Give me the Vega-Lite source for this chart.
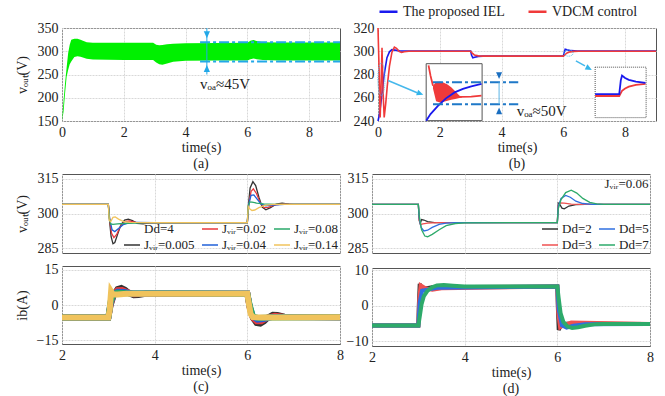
{
"$schema": "https://vega.github.io/schema/vega-lite/v6.json",
"padding": {"left": 14, "top": 0, "right": 4, "bottom": 0},
"background": "white",
"spacing": -1,
"resolve": {"scale": {"color": "independent"}, "legend": {"color": "independent"}},
"config": {
  "font": "Liberation Serif",
  "view": {"stroke": "#555555", "strokeWidth": 1},
  "style": {"guide-title": {"fontWeight": "normal"}},
  "axis": {"labelFont": "Liberation Serif", "labelFontSize": 14, "labelColor": "#222222", "titleFont": "Liberation Serif", "titleFontSize": 14, "titleFontWeight": "normal", "titleColor": "#222222", "ticks": false, "labelPadding": 4, "domain": false, "gridColor": "#d8d8d8", "gridDash": [2, 1], "labelFlush": false, "labelOverlap": false, "labelBound": false},
  "legend": {"labelFont": "Liberation Serif", "labelFontSize": 13, "labelColor": "#222222", "symbolType": "stroke", "title": null, "padding": 0},
  "title": {"font": "Liberation Serif", "fontSize": 14, "fontWeight": "normal", "color": "#222222"}
},
"datasets": {
  "a_band": [
    {"t": 0, "v": 150, "v2": 150}, {"t": 0.05, "v": 193, "v2": 170}, {"t": 0.1, "v": 232, "v2": 210}, {"t": 0.15, "v": 265, "v2": 245},
    {"t": 0.2, "v": 296, "v2": 260}, {"t": 0.25, "v": 314, "v2": 272}, {"t": 0.3, "v": 325, "v2": 278}, {"t": 0.4, "v": 327, "v2": 287.5},
    {"t": 0.5, "v": 327, "v2": 289}, {"t": 0.6, "v": 324.5, "v2": 288}, {"t": 0.8, "v": 319.5, "v2": 284}, {"t": 1.0, "v": 318.5, "v2": 282},
    {"t": 2.0, "v": 318.5, "v2": 281}, {"t": 2.95, "v": 318.5, "v2": 281}, {"t": 3.05, "v": 314, "v2": 276}, {"t": 3.15, "v": 313, "v2": 272},
    {"t": 3.25, "v": 313.5, "v2": 271}, {"t": 3.4, "v": 315, "v2": 273.5}, {"t": 3.6, "v": 316, "v2": 277.5}, {"t": 4.0, "v": 317, "v2": 279.5},
    {"t": 5.0, "v": 318, "v2": 280}, {"t": 6.0, "v": 318.5, "v2": 280}, {"t": 6.1, "v": 322.5, "v2": 283}, {"t": 6.2, "v": 324, "v2": 284.5},
    {"t": 6.3, "v": 322, "v2": 283}, {"t": 6.5, "v": 319.5, "v2": 281}, {"t": 7.0, "v": 319, "v2": 280}, {"t": 9.0, "v": 319, "v2": 280}
  ],
  "b_main": [
    {"s": "The proposed IEL", "t": 0, "v": 240}, {"s": "The proposed IEL", "t": 0.05, "v": 246}, {"s": "The proposed IEL", "t": 0.1, "v": 257},
    {"s": "The proposed IEL", "t": 0.2, "v": 280}, {"s": "The proposed IEL", "t": 0.29, "v": 294.5}, {"s": "The proposed IEL", "t": 0.37, "v": 299.5},
    {"s": "The proposed IEL", "t": 0.45, "v": 301.4}, {"s": "The proposed IEL", "t": 0.55, "v": 301}, {"s": "The proposed IEL", "t": 0.7, "v": 300.3},
    {"s": "The proposed IEL", "t": 1, "v": 300.1}, {"s": "The proposed IEL", "t": 3, "v": 300.1}, {"s": "The proposed IEL", "t": 3.03, "v": 296.5},
    {"s": "The proposed IEL", "t": 3.07, "v": 294.3}, {"s": "The proposed IEL", "t": 3.13, "v": 294.8}, {"s": "The proposed IEL", "t": 3.25, "v": 295.6},
    {"s": "The proposed IEL", "t": 3.4, "v": 295.8}, {"s": "The proposed IEL", "t": 6, "v": 295.8}, {"s": "The proposed IEL", "t": 6.03, "v": 299},
    {"s": "The proposed IEL", "t": 6.06, "v": 301.7}, {"s": "The proposed IEL", "t": 6.12, "v": 301.2}, {"s": "The proposed IEL", "t": 6.25, "v": 300.5},
    {"s": "The proposed IEL", "t": 6.45, "v": 300.1}, {"s": "The proposed IEL", "t": 9, "v": 300.1},
    {"s": "VDCM control", "t": 0, "v": 320}, {"s": "VDCM control", "t": 0.03, "v": 290}, {"s": "VDCM control", "t": 0.07, "v": 243},
    {"s": "VDCM control", "t": 0.1, "v": 270}, {"s": "VDCM control", "t": 0.13, "v": 303}, {"s": "VDCM control", "t": 0.16, "v": 268},
    {"s": "VDCM control", "t": 0.2, "v": 243}, {"s": "VDCM control", "t": 0.25, "v": 255}, {"s": "VDCM control", "t": 0.3, "v": 270},
    {"s": "VDCM control", "t": 0.37, "v": 287}, {"s": "VDCM control", "t": 0.45, "v": 299}, {"s": "VDCM control", "t": 0.53, "v": 303.5},
    {"s": "VDCM control", "t": 0.6, "v": 302.5}, {"s": "VDCM control", "t": 0.68, "v": 300}, {"s": "VDCM control", "t": 0.76, "v": 299},
    {"s": "VDCM control", "t": 0.85, "v": 299.6}, {"s": "VDCM control", "t": 1, "v": 300}, {"s": "VDCM control", "t": 3, "v": 300},
    {"s": "VDCM control", "t": 3.05, "v": 298.3}, {"s": "VDCM control", "t": 3.12, "v": 296.8}, {"s": "VDCM control", "t": 3.25, "v": 296},
    {"s": "VDCM control", "t": 3.4, "v": 295.8}, {"s": "VDCM control", "t": 6, "v": 295.8}, {"s": "VDCM control", "t": 6.05, "v": 297},
    {"s": "VDCM control", "t": 6.12, "v": 298.5}, {"s": "VDCM control", "t": 6.22, "v": 299.5}, {"s": "VDCM control", "t": 6.35, "v": 299.9},
    {"s": "VDCM control", "t": 6.5, "v": 300}, {"s": "VDCM control", "t": 9, "v": 300}
  ],
  "b_band": [
    {"t": 1.78, "v": 270.4, "v2": 268}, {"t": 1.88, "v": 273.5, "v2": 257}, {"t": 2.0, "v": 273.8, "v2": 255.9}, {"t": 2.1, "v": 273.3, "v2": 256.3},
    {"t": 2.25, "v": 271.5, "v2": 257.4}, {"t": 2.37, "v": 269, "v2": 258.2}, {"t": 2.5, "v": 265.5, "v2": 259}, {"t": 2.64, "v": 261.7, "v2": 259.7},
    {"t": 2.72, "v": 261, "v2": 260.2}
  ],
  "b_inset": [
    {"g": "r1", "c": "#f03a3a", "t": 1.636, "v": 287.8}, {"g": "r1", "c": "#f03a3a", "t": 1.7, "v": 279}, {"g": "r1", "c": "#f03a3a", "t": 1.78, "v": 270.4},
    {"g": "r2", "c": "#f03a3a", "t": 2.64, "v": 260.8}, {"g": "r2", "c": "#f03a3a", "t": 3.02, "v": 261}, {"g": "r2", "c": "#f03a3a", "t": 3.35, "v": 261.9},
    {"g": "r3", "c": "#f03a3a", "t": 7.03, "v": 261.5}, {"g": "r3", "c": "#f03a3a", "t": 7.81, "v": 261.5}, {"g": "r3", "c": "#f03a3a", "t": 7.86, "v": 264},
    {"g": "r3", "c": "#f03a3a", "t": 7.9, "v": 266}, {"g": "r3", "c": "#f03a3a", "t": 8.0, "v": 268}, {"g": "r3", "c": "#f03a3a", "t": 8.12, "v": 269.6},
    {"g": "r3", "c": "#f03a3a", "t": 8.35, "v": 271}, {"g": "r3", "c": "#f03a3a", "t": 8.66, "v": 271.9},
    {"g": "b1", "c": "#1a1aee", "t": 1.56, "v": 240.3}, {"g": "b1", "c": "#1a1aee", "t": 1.7, "v": 246}, {"g": "b1", "c": "#1a1aee", "t": 1.94, "v": 253},
    {"g": "b1", "c": "#1a1aee", "t": 2.2, "v": 259.5}, {"g": "b1", "c": "#1a1aee", "t": 2.48, "v": 264.6}, {"g": "b1", "c": "#1a1aee", "t": 2.75, "v": 267.6},
    {"g": "b1", "c": "#1a1aee", "t": 3.02, "v": 269.8}, {"g": "b1", "c": "#1a1aee", "t": 3.35, "v": 271.9},
    {"g": "b2", "c": "#1a1aee", "t": 7.03, "v": 263.2}, {"g": "b2", "c": "#1a1aee", "t": 7.81, "v": 263.2}, {"g": "b2", "c": "#1a1aee", "t": 7.86, "v": 275},
    {"g": "b2", "c": "#1a1aee", "t": 7.9, "v": 279.1}, {"g": "b2", "c": "#1a1aee", "t": 8.0, "v": 277}, {"g": "b2", "c": "#1a1aee", "t": 8.12, "v": 275.4},
    {"g": "b2", "c": "#1a1aee", "t": 8.35, "v": 273.8}, {"g": "b2", "c": "#1a1aee", "t": 8.66, "v": 272.8}
  ],
  "c1": [
    {"s": "Jᵥᵢᵣ=0.005", "t": 2, "v": 303.9}, {"s": "Jᵥᵢᵣ=0.005", "t": 3, "v": 303.9}, {"s": "Jᵥᵢᵣ=0.005", "t": 3.03, "v": 296}, {"s": "Jᵥᵢᵣ=0.005", "t": 3.06, "v": 290},
    {"s": "Jᵥᵢᵣ=0.005", "t": 3.1, "v": 287}, {"s": "Jᵥᵢᵣ=0.005", "t": 3.14, "v": 287.5}, {"s": "Jᵥᵢᵣ=0.005", "t": 3.2, "v": 291}, {"s": "Jᵥᵢᵣ=0.005", "t": 3.27, "v": 295},
    {"s": "Jᵥᵢᵣ=0.005", "t": 3.35, "v": 297.2}, {"s": "Jᵥᵢᵣ=0.005", "t": 3.43, "v": 297.6}, {"s": "Jᵥᵢᵣ=0.005", "t": 3.52, "v": 296.9}, {"s": "Jᵥᵢᵣ=0.005", "t": 3.62, "v": 295.8},
    {"s": "Jᵥᵢᵣ=0.005", "t": 3.75, "v": 295.6}, {"s": "Jᵥᵢᵣ=0.005", "t": 3.9, "v": 296}, {"s": "Jᵥᵢᵣ=0.005", "t": 6, "v": 296.1}, {"s": "Jᵥᵢᵣ=0.005", "t": 6.02, "v": 303},
    {"s": "Jᵥᵢᵣ=0.005", "t": 6.06, "v": 311}, {"s": "Jᵥᵢᵣ=0.005", "t": 6.12, "v": 313.7}, {"s": "Jᵥᵢᵣ=0.005", "t": 6.18, "v": 312}, {"s": "Jᵥᵢᵣ=0.005", "t": 6.25, "v": 307},
    {"s": "Jᵥᵢᵣ=0.005", "t": 6.32, "v": 302.8}, {"s": "Jᵥᵢᵣ=0.005", "t": 6.4, "v": 301.6}, {"s": "Jᵥᵢᵣ=0.005", "t": 6.5, "v": 302.5}, {"s": "Jᵥᵢᵣ=0.005", "t": 6.62, "v": 304},
    {"s": "Jᵥᵢᵣ=0.005", "t": 6.75, "v": 304.4}, {"s": "Jᵥᵢᵣ=0.005", "t": 6.9, "v": 304}, {"s": "Jᵥᵢᵣ=0.005", "t": 7.1, "v": 303.9}, {"s": "Jᵥᵢᵣ=0.005", "t": 8, "v": 303.9},
    {"s": "Jᵥᵢᵣ=0.02", "t": 2, "v": 303.9}, {"s": "Jᵥᵢᵣ=0.02", "t": 3, "v": 303.9}, {"s": "Jᵥᵢᵣ=0.02", "t": 3.03, "v": 297}, {"s": "Jᵥᵢᵣ=0.02", "t": 3.07, "v": 291.5},
    {"s": "Jᵥᵢᵣ=0.02", "t": 3.12, "v": 289.6}, {"s": "Jᵥᵢᵣ=0.02", "t": 3.18, "v": 291}, {"s": "Jᵥᵢᵣ=0.02", "t": 3.26, "v": 294.5}, {"s": "Jᵥᵢᵣ=0.02", "t": 3.35, "v": 296.5},
    {"s": "Jᵥᵢᵣ=0.02", "t": 3.45, "v": 296.8}, {"s": "Jᵥᵢᵣ=0.02", "t": 3.6, "v": 296.2}, {"s": "Jᵥᵢᵣ=0.02", "t": 3.8, "v": 295.9}, {"s": "Jᵥᵢᵣ=0.02", "t": 4, "v": 296.1},
    {"s": "Jᵥᵢᵣ=0.02", "t": 6, "v": 296.1}, {"s": "Jᵥᵢᵣ=0.02", "t": 6.03, "v": 303.5}, {"s": "Jᵥᵢᵣ=0.02", "t": 6.08, "v": 309.5}, {"s": "Jᵥᵢᵣ=0.02", "t": 6.13, "v": 310.6},
    {"s": "Jᵥᵢᵣ=0.02", "t": 6.2, "v": 308.5}, {"s": "Jᵥᵢᵣ=0.02", "t": 6.28, "v": 304.5}, {"s": "Jᵥᵢᵣ=0.02", "t": 6.36, "v": 302.5}, {"s": "Jᵥᵢᵣ=0.02", "t": 6.45, "v": 302.6},
    {"s": "Jᵥᵢᵣ=0.02", "t": 6.6, "v": 303.7}, {"s": "Jᵥᵢᵣ=0.02", "t": 6.8, "v": 304.1}, {"s": "Jᵥᵢᵣ=0.02", "t": 7, "v": 303.9}, {"s": "Jᵥᵢᵣ=0.02", "t": 8, "v": 303.9},
    {"s": "Jᵥᵢᵣ=0.04", "t": 2, "v": 303.9}, {"s": "Jᵥᵢᵣ=0.04", "t": 3, "v": 303.9}, {"s": "Jᵥᵢᵣ=0.04", "t": 3.03, "v": 297.5}, {"s": "Jᵥᵢᵣ=0.04", "t": 3.08, "v": 293},
    {"s": "Jᵥᵢᵣ=0.04", "t": 3.14, "v": 292.2}, {"s": "Jᵥᵢᵣ=0.04", "t": 3.22, "v": 293.5}, {"s": "Jᵥᵢᵣ=0.04", "t": 3.32, "v": 295.2}, {"s": "Jᵥᵢᵣ=0.04", "t": 3.45, "v": 296},
    {"s": "Jᵥᵢᵣ=0.04", "t": 3.6, "v": 296.2}, {"s": "Jᵥᵢᵣ=0.04", "t": 4, "v": 296.1}, {"s": "Jᵥᵢᵣ=0.04", "t": 6, "v": 296.1}, {"s": "Jᵥᵢᵣ=0.04", "t": 6.03, "v": 304},
    {"s": "Jᵥᵢᵣ=0.04", "t": 6.08, "v": 307.8}, {"s": "Jᵥᵢᵣ=0.04", "t": 6.14, "v": 308}, {"s": "Jᵥᵢᵣ=0.04", "t": 6.22, "v": 306}, {"s": "Jᵥᵢᵣ=0.04", "t": 6.3, "v": 304},
    {"s": "Jᵥᵢᵣ=0.04", "t": 6.4, "v": 303.3}, {"s": "Jᵥᵢᵣ=0.04", "t": 6.55, "v": 303.6}, {"s": "Jᵥᵢᵣ=0.04", "t": 6.8, "v": 303.9}, {"s": "Jᵥᵢᵣ=0.04", "t": 8, "v": 303.9},
    {"s": "Jᵥᵢᵣ=0.08", "t": 2, "v": 303.9}, {"s": "Jᵥᵢᵣ=0.08", "t": 3, "v": 303.9}, {"s": "Jᵥᵢᵣ=0.08", "t": 3.02, "v": 298}, {"s": "Jᵥᵢᵣ=0.08", "t": 3.05, "v": 295.5},
    {"s": "Jᵥᵢᵣ=0.08", "t": 3.1, "v": 295.3}, {"s": "Jᵥᵢᵣ=0.08", "t": 3.2, "v": 295.5}, {"s": "Jᵥᵢᵣ=0.08", "t": 3.4, "v": 295.8}, {"s": "Jᵥᵢᵣ=0.08", "t": 3.7, "v": 296},
    {"s": "Jᵥᵢᵣ=0.08", "t": 4, "v": 296.1}, {"s": "Jᵥᵢᵣ=0.08", "t": 6, "v": 296.1}, {"s": "Jᵥᵢᵣ=0.08", "t": 6.02, "v": 303}, {"s": "Jᵥᵢᵣ=0.08", "t": 6.05, "v": 305},
    {"s": "Jᵥᵢᵣ=0.08", "t": 6.1, "v": 304.9}, {"s": "Jᵥᵢᵣ=0.08", "t": 6.2, "v": 304.5}, {"s": "Jᵥᵢᵣ=0.08", "t": 6.35, "v": 304.1}, {"s": "Jᵥᵢᵣ=0.08", "t": 6.6, "v": 303.9},
    {"s": "Jᵥᵢᵣ=0.08", "t": 8, "v": 303.9},
    {"s": "Jᵥᵢᵣ=0.14", "t": 2, "v": 303.9}, {"s": "Jᵥᵢᵣ=0.14", "t": 3, "v": 303.9}, {"s": "Jᵥᵢᵣ=0.14", "t": 3.02, "v": 297}, {"s": "Jᵥᵢᵣ=0.14", "t": 3.05, "v": 296.5},
    {"s": "Jᵥᵢᵣ=0.14", "t": 3.1, "v": 298.3}, {"s": "Jᵥᵢᵣ=0.14", "t": 3.15, "v": 298.5}, {"s": "Jᵥᵢᵣ=0.14", "t": 3.22, "v": 297.6}, {"s": "Jᵥᵢᵣ=0.14", "t": 3.32, "v": 296.6},
    {"s": "Jᵥᵢᵣ=0.14", "t": 3.45, "v": 296.2}, {"s": "Jᵥᵢᵣ=0.14", "t": 4, "v": 296.1}, {"s": "Jᵥᵢᵣ=0.14", "t": 6, "v": 296.1}, {"s": "Jᵥᵢᵣ=0.14", "t": 6.02, "v": 303},
    {"s": "Jᵥᵢᵣ=0.14", "t": 6.05, "v": 302}, {"s": "Jᵥᵢᵣ=0.14", "t": 6.1, "v": 301.3}, {"s": "Jᵥᵢᵣ=0.14", "t": 6.16, "v": 301.5}, {"s": "Jᵥᵢᵣ=0.14", "t": 6.25, "v": 302.5},
    {"s": "Jᵥᵢᵣ=0.14", "t": 6.38, "v": 303.5}, {"s": "Jᵥᵢᵣ=0.14", "t": 6.55, "v": 303.9}, {"s": "Jᵥᵢᵣ=0.14", "t": 8, "v": 303.9}
  ],
  "c2": [
    {"s": "Jᵥᵢᵣ=0.005", "t": 2, "v": -5.3}, {"s": "Jᵥᵢᵣ=0.005", "t": 3, "v": -5.3}, {"s": "Jᵥᵢᵣ=0.005", "t": 3.05, "v": 0}, {"s": "Jᵥᵢᵣ=0.005", "t": 3.12, "v": 4.5},
    {"s": "Jᵥᵢᵣ=0.005", "t": 3.2, "v": 6.8}, {"s": "Jᵥᵢᵣ=0.005", "t": 3.28, "v": 7.3}, {"s": "Jᵥᵢᵣ=0.005", "t": 3.36, "v": 6.5}, {"s": "Jᵥᵢᵣ=0.005", "t": 3.45, "v": 5},
    {"s": "Jᵥᵢᵣ=0.005", "t": 3.55, "v": 4.2}, {"s": "Jᵥᵢᵣ=0.005", "t": 3.65, "v": 4.3}, {"s": "Jᵥᵢᵣ=0.005", "t": 3.8, "v": 4.8}, {"s": "Jᵥᵢᵣ=0.005", "t": 6, "v": 4.8},
    {"s": "Jᵥᵢᵣ=0.005", "t": 6.05, "v": -1}, {"s": "Jᵥᵢᵣ=0.005", "t": 6.12, "v": -5.5}, {"s": "Jᵥᵢᵣ=0.005", "t": 6.2, "v": -7.7}, {"s": "Jᵥᵢᵣ=0.005", "t": 6.28, "v": -8},
    {"s": "Jᵥᵢᵣ=0.005", "t": 6.36, "v": -7}, {"s": "Jᵥᵢᵣ=0.005", "t": 6.45, "v": -5.3}, {"s": "Jᵥᵢᵣ=0.005", "t": 6.55, "v": -4.2}, {"s": "Jᵥᵢᵣ=0.005", "t": 6.65, "v": -4.3},
    {"s": "Jᵥᵢᵣ=0.005", "t": 6.8, "v": -5}, {"s": "Jᵥᵢᵣ=0.005", "t": 8, "v": -5.2},
    {"s": "Jᵥᵢᵣ=0.02", "t": 2, "v": -5.3}, {"s": "Jᵥᵢᵣ=0.02", "t": 3, "v": -5.3}, {"s": "Jᵥᵢᵣ=0.02", "t": 3.05, "v": 0.5}, {"s": "Jᵥᵢᵣ=0.02", "t": 3.12, "v": 4.8},
    {"s": "Jᵥᵢᵣ=0.02", "t": 3.2, "v": 6.3}, {"s": "Jᵥᵢᵣ=0.02", "t": 3.3, "v": 6.4}, {"s": "Jᵥᵢᵣ=0.02", "t": 3.4, "v": 5.6}, {"s": "Jᵥᵢᵣ=0.02", "t": 3.55, "v": 4.6},
    {"s": "Jᵥᵢᵣ=0.02", "t": 3.8, "v": 4.8}, {"s": "Jᵥᵢᵣ=0.02", "t": 6, "v": 4.8}, {"s": "Jᵥᵢᵣ=0.02", "t": 6.05, "v": -1}, {"s": "Jᵥᵢᵣ=0.02", "t": 6.12, "v": -5.5},
    {"s": "Jᵥᵢᵣ=0.02", "t": 6.2, "v": -7}, {"s": "Jᵥᵢᵣ=0.02", "t": 6.3, "v": -7}, {"s": "Jᵥᵢᵣ=0.02", "t": 6.42, "v": -5.5}, {"s": "Jᵥᵢᵣ=0.02", "t": 6.6, "v": -4.6},
    {"s": "Jᵥᵢᵣ=0.02", "t": 6.8, "v": -5.1}, {"s": "Jᵥᵢᵣ=0.02", "t": 8, "v": -5.2},
    {"s": "Jᵥᵢᵣ=0.04", "t": 2, "v": -5.3}, {"s": "Jᵥᵢᵣ=0.04", "t": 3, "v": -5.3}, {"s": "Jᵥᵢᵣ=0.04", "t": 3.05, "v": 1}, {"s": "Jᵥᵢᵣ=0.04", "t": 3.12, "v": 4.8},
    {"s": "Jᵥᵢᵣ=0.04", "t": 3.2, "v": 5.7}, {"s": "Jᵥᵢᵣ=0.04", "t": 3.35, "v": 5.6}, {"s": "Jᵥᵢᵣ=0.04", "t": 3.5, "v": 5}, {"s": "Jᵥᵢᵣ=0.04", "t": 6, "v": 4.8},
    {"s": "Jᵥᵢᵣ=0.04", "t": 6.05, "v": -0.5}, {"s": "Jᵥᵢᵣ=0.04", "t": 6.12, "v": -5}, {"s": "Jᵥᵢᵣ=0.04", "t": 6.22, "v": -6.3}, {"s": "Jᵥᵢᵣ=0.04", "t": 6.35, "v": -6},
    {"s": "Jᵥᵢᵣ=0.04", "t": 6.55, "v": -5.1}, {"s": "Jᵥᵢᵣ=0.04", "t": 8, "v": -5.2},
    {"s": "Jᵥᵢᵣ=0.08", "t": 2, "v": -5.3}, {"s": "Jᵥᵢᵣ=0.08", "t": 3, "v": -5.3}, {"s": "Jᵥᵢᵣ=0.08", "t": 3.05, "v": 1.5}, {"s": "Jᵥᵢᵣ=0.08", "t": 3.12, "v": 4.8},
    {"s": "Jᵥᵢᵣ=0.08", "t": 3.2, "v": 5.2}, {"s": "Jᵥᵢᵣ=0.08", "t": 3.4, "v": 5}, {"s": "Jᵥᵢᵣ=0.08", "t": 6, "v": 4.8}, {"s": "Jᵥᵢᵣ=0.08", "t": 6.05, "v": 0},
    {"s": "Jᵥᵢᵣ=0.08", "t": 6.12, "v": -5}, {"s": "Jᵥᵢᵣ=0.08", "t": 6.25, "v": -5.6}, {"s": "Jᵥᵢᵣ=0.08", "t": 6.5, "v": -5.3}, {"s": "Jᵥᵢᵣ=0.08", "t": 8, "v": -5.2},
    {"s": "Jᵥᵢᵣ=0.14", "t": 2, "v": -5.3}, {"s": "Jᵥᵢᵣ=0.14", "t": 3, "v": -5.3}, {"s": "Jᵥᵢᵣ=0.14", "t": 3.03, "v": -2}, {"s": "Jᵥᵢᵣ=0.14", "t": 3.06, "v": 5.8},
    {"s": "Jᵥᵢᵣ=0.14", "t": 3.1, "v": 4.5}, {"s": "Jᵥᵢᵣ=0.14", "t": 3.2, "v": 4.5}, {"s": "Jᵥᵢᵣ=0.14", "t": 3.4, "v": 4.8}, {"s": "Jᵥᵢᵣ=0.14", "t": 6, "v": 4.8},
    {"s": "Jᵥᵢᵣ=0.14", "t": 6.03, "v": 1}, {"s": "Jᵥᵢᵣ=0.14", "t": 6.07, "v": -3.8}, {"s": "Jᵥᵢᵣ=0.14", "t": 6.12, "v": -5.2}, {"s": "Jᵥᵢᵣ=0.14", "t": 6.3, "v": -5.3},
    {"s": "Jᵥᵢᵣ=0.14", "t": 8, "v": -5.2}
  ],
  "d1": [
    {"s": "Dd=2", "t": 2, "v": 303.9}, {"s": "Dd=2", "t": 3, "v": 303.9}, {"s": "Dd=2", "t": 3.02, "v": 297}, {"s": "Dd=2", "t": 3.04, "v": 295.6},
    {"s": "Dd=2", "t": 3.07, "v": 297.4}, {"s": "Dd=2", "t": 3.12, "v": 297.2}, {"s": "Dd=2", "t": 3.2, "v": 296.5}, {"s": "Dd=2", "t": 3.35, "v": 296.1},
    {"s": "Dd=2", "t": 6, "v": 296.1}, {"s": "Dd=2", "t": 6.02, "v": 304.5}, {"s": "Dd=2", "t": 6.05, "v": 304}, {"s": "Dd=2", "t": 6.1, "v": 302.3},
    {"s": "Dd=2", "t": 6.15, "v": 302}, {"s": "Dd=2", "t": 6.25, "v": 303.2}, {"s": "Dd=2", "t": 6.4, "v": 303.8}, {"s": "Dd=2", "t": 6.6, "v": 303.9}, {"s": "Dd=2", "t": 8, "v": 303.9},
    {"s": "Dd=3", "t": 2, "v": 303.9}, {"s": "Dd=3", "t": 3, "v": 303.9}, {"s": "Dd=3", "t": 3.02, "v": 297}, {"s": "Dd=3", "t": 3.05, "v": 295.3},
    {"s": "Dd=3", "t": 3.1, "v": 295.5}, {"s": "Dd=3", "t": 3.2, "v": 295.9}, {"s": "Dd=3", "t": 3.4, "v": 296.1}, {"s": "Dd=3", "t": 6, "v": 296.1},
    {"s": "Dd=3", "t": 6.02, "v": 303.5}, {"s": "Dd=3", "t": 6.06, "v": 304.6}, {"s": "Dd=3", "t": 6.15, "v": 304.5}, {"s": "Dd=3", "t": 6.3, "v": 304},
    {"s": "Dd=3", "t": 6.5, "v": 303.9}, {"s": "Dd=3", "t": 8, "v": 303.9},
    {"s": "Dd=5", "t": 2, "v": 303.9}, {"s": "Dd=5", "t": 3, "v": 303.9}, {"s": "Dd=5", "t": 3.02, "v": 298}, {"s": "Dd=5", "t": 3.06, "v": 294},
    {"s": "Dd=5", "t": 3.12, "v": 292.5}, {"s": "Dd=5", "t": 3.2, "v": 292.8}, {"s": "Dd=5", "t": 3.3, "v": 294}, {"s": "Dd=5", "t": 3.45, "v": 295.3},
    {"s": "Dd=5", "t": 3.6, "v": 295.9}, {"s": "Dd=5", "t": 3.8, "v": 296.1}, {"s": "Dd=5", "t": 6, "v": 296.1}, {"s": "Dd=5", "t": 6.02, "v": 303},
    {"s": "Dd=5", "t": 6.08, "v": 306.5}, {"s": "Dd=5", "t": 6.18, "v": 307.8}, {"s": "Dd=5", "t": 6.28, "v": 307}, {"s": "Dd=5", "t": 6.4, "v": 305.3},
    {"s": "Dd=5", "t": 6.55, "v": 304.3}, {"s": "Dd=5", "t": 6.75, "v": 303.9}, {"s": "Dd=5", "t": 8, "v": 303.9},
    {"s": "Dd=7", "t": 2, "v": 303.9}, {"s": "Dd=7", "t": 3, "v": 303.9}, {"s": "Dd=7", "t": 3.02, "v": 299}, {"s": "Dd=7", "t": 3.07, "v": 293},
    {"s": "Dd=7", "t": 3.14, "v": 290.3}, {"s": "Dd=7", "t": 3.2, "v": 290}, {"s": "Dd=7", "t": 3.3, "v": 291}, {"s": "Dd=7", "t": 3.45, "v": 293},
    {"s": "Dd=7", "t": 3.6, "v": 294.8}, {"s": "Dd=7", "t": 3.8, "v": 295.7}, {"s": "Dd=7", "t": 4, "v": 296}, {"s": "Dd=7", "t": 6, "v": 296.1},
    {"s": "Dd=7", "t": 6.02, "v": 302}, {"s": "Dd=7", "t": 6.08, "v": 306}, {"s": "Dd=7", "t": 6.18, "v": 309}, {"s": "Dd=7", "t": 6.3, "v": 310},
    {"s": "Dd=7", "t": 6.42, "v": 308.8}, {"s": "Dd=7", "t": 6.55, "v": 306.5}, {"s": "Dd=7", "t": 6.7, "v": 304.8}, {"s": "Dd=7", "t": 6.85, "v": 304.1},
    {"s": "Dd=7", "t": 7, "v": 303.9}, {"s": "Dd=7", "t": 8, "v": 303.9}
  ],
  "d2": [
    {"s": "Dd=2", "t": 2, "v": -5.5}, {"s": "Dd=2", "t": 3, "v": -5.5}, {"s": "Dd=2", "t": 3.01, "v": 0}, {"s": "Dd=2", "t": 3.03, "v": 6.2},
    {"s": "Dd=2", "t": 3.06, "v": 5}, {"s": "Dd=2", "t": 3.1, "v": 4.8}, {"s": "Dd=2", "t": 3.3, "v": 5.3}, {"s": "Dd=2", "t": 6, "v": 5.5},
    {"s": "Dd=2", "t": 6.01, "v": 0}, {"s": "Dd=2", "t": 6.03, "v": -6.8}, {"s": "Dd=2", "t": 6.07, "v": -5.5}, {"s": "Dd=2", "t": 6.2, "v": -5}, {"s": "Dd=2", "t": 8, "v": -5.1},
    {"s": "Dd=3", "t": 2, "v": -5.5}, {"s": "Dd=3", "t": 3, "v": -5.5}, {"s": "Dd=3", "t": 3.02, "v": 2}, {"s": "Dd=3", "t": 3.05, "v": 5.8},
    {"s": "Dd=3", "t": 3.15, "v": 5}, {"s": "Dd=3", "t": 3.3, "v": 4.6}, {"s": "Dd=3", "t": 3.5, "v": 5}, {"s": "Dd=3", "t": 6, "v": 5.5},
    {"s": "Dd=3", "t": 6.02, "v": -2}, {"s": "Dd=3", "t": 6.06, "v": -6}, {"s": "Dd=3", "t": 6.15, "v": -5.3}, {"s": "Dd=3", "t": 6.3, "v": -4.7}, {"s": "Dd=3", "t": 8, "v": -5.1},
    {"s": "Dd=5", "t": 2, "v": -5.5}, {"s": "Dd=5", "t": 3, "v": -5.5}, {"s": "Dd=5", "t": 3.03, "v": 1}, {"s": "Dd=5", "t": 3.08, "v": 4.3},
    {"s": "Dd=5", "t": 3.2, "v": 4.6}, {"s": "Dd=5", "t": 3.4, "v": 5.1}, {"s": "Dd=5", "t": 6, "v": 5.5}, {"s": "Dd=5", "t": 6.03, "v": -1},
    {"s": "Dd=5", "t": 6.1, "v": -5.5}, {"s": "Dd=5", "t": 6.2, "v": -6.1}, {"s": "Dd=5", "t": 6.35, "v": -5.6}, {"s": "Dd=5", "t": 6.6, "v": -5.2}, {"s": "Dd=5", "t": 8, "v": -5.1},
    {"s": "Dd=7", "t": 2, "v": -5.5}, {"s": "Dd=7", "t": 3, "v": -5.5}, {"s": "Dd=7", "t": 3.03, "v": -3}, {"s": "Dd=7", "t": 3.07, "v": 0.5},
    {"s": "Dd=7", "t": 3.12, "v": 2.8}, {"s": "Dd=7", "t": 3.2, "v": 4.3}, {"s": "Dd=7", "t": 3.3, "v": 5.3}, {"s": "Dd=7", "t": 3.4, "v": 5.8},
    {"s": "Dd=7", "t": 3.55, "v": 5.9}, {"s": "Dd=7", "t": 3.75, "v": 5.7}, {"s": "Dd=7", "t": 4, "v": 5.5}, {"s": "Dd=7", "t": 6, "v": 5.5},
    {"s": "Dd=7", "t": 6.03, "v": 2}, {"s": "Dd=7", "t": 6.07, "v": -2}, {"s": "Dd=7", "t": 6.13, "v": -4.5}, {"s": "Dd=7", "t": 6.22, "v": -5.8},
    {"s": "Dd=7", "t": 6.32, "v": -6.2}, {"s": "Dd=7", "t": 6.45, "v": -6}, {"s": "Dd=7", "t": 6.6, "v": -5.6}, {"s": "Dd=7", "t": 6.8, "v": -5.2},
    {"s": "Dd=7", "t": 7, "v": -5.1}, {"s": "Dd=7", "t": 8, "v": -5.1}
  ]
},
"vconcat": [
  {
    "hconcat": [
      {
        "width": 278, "height": 93,
        "title": {"text": "(a)", "orient": "bottom", "offset": 3},
        "encoding": {
          "x": {"field": "t", "type": "quantitative", "scale": {"domain": [0, 9], "nice": false}, "axis": {"values": [0, 2, 4, 6, 8], "title": "time(s)", "titlePadding": 1, "titleFontWeight": "normal", "labelOverlap": false}},
          "y": {"field": "v", "type": "quantitative", "scale": {"domain": [150, 350], "nice": false}, "axis": {"values": [150, 200, 250, 300, 350], "title": "vₒᵤₜ(V)", "minExtent": 28, "maxExtent": 28, "titlePadding": 5, "titleFontWeight": "normal", "labelOverlap": false, "labelBound": false}}
        },
        "layer": [
          {"data": {"name": "a_band"}, "mark": {"type": "area", "color": "#00f000", "opacity": 1},
           "encoding": {"y2": {"field": "v2"}}},
          {"data": {"values": [{"t": 4.47, "t2": 9, "v": 319.6}, {"t": 4.47, "t2": 9, "v": 277.7}]},
           "mark": {"type": "rule", "color": "#22a8e8", "strokeWidth": 2, "strokeDash": [10, 3, 3, 3]},
           "encoding": {"x2": {"field": "t2"}}},
          {"data": {"values": [{"t": 4.69, "v": 250, "v2": 350}]},
           "mark": {"type": "rule", "color": "#22a8e8", "strokeWidth": 1},
           "encoding": {"y2": {"field": "v2"}}},
          {"data": {"values": [{"t": 4.69, "v": 335.4}]},
           "mark": {"type": "point", "shape": "M-0.45,-0.5L0.45,-0.5L0,0.5Z", "filled": true, "size": 190, "color": "#22a8e8", "opacity": 1},
           "encoding": {}},
          {"data": {"values": [{"t": 4.69, "v": 263}]},
           "mark": {"type": "point", "shape": "M-0.45,0.5L0.45,0.5L0,-0.5Z", "filled": true, "size": 190, "color": "#22a8e8", "opacity": 1},
           "encoding": {}},
          {"data": {"values": [{"t": 4.47, "v": 228.7, "label": "vₒₐ≈45V"}]},
           "mark": {"type": "text", "align": "left", "baseline": "middle", "fontSize": 15, "font": "Liberation Serif", "color": "#222222"},
           "encoding": {"text": {"field": "label"}}}
        ]
      },
      {
        "width": 278, "height": 93,
        "title": {"text": "(b)", "orient": "bottom", "offset": 3},
        "encoding": {
          "x": {"field": "t", "type": "quantitative", "scale": {"domain": [0, 9], "nice": false}, "axis": {"values": [0, 2, 4, 6, 8], "title": "time(s)", "titlePadding": 1, "titleFontWeight": "normal", "labelOverlap": false}},
          "y": {"field": "v", "type": "quantitative", "scale": {"domain": [240, 320], "nice": false}, "axis": {"values": [240, 260, 280, 300, 320], "title": null, "labelOverlap": false, "labelBound": false}}
        },
        "layer": [
          {"data": {"name": "b_main"}, "mark": {"type": "line", "strokeWidth": 1.6},
           "encoding": {
             "color": {"field": "s", "type": "nominal", "scale": {"domain": ["The proposed IEL", "VDCM control"], "range": ["#1a1aee", "#f03a3a"]},
                       "legend": {"orient": "top", "direction": "horizontal", "symbolSize": 324, "symbolStrokeWidth": 2.5, "labelFontSize": 14, "columnPadding": 18, "offset": 5, "labelOffset": 4}}}},
          {"data": {"values": [{"t": 1.56, "t2": 3.37, "v": 240.3, "v2": 289.3}]},
           "mark": {"type": "rect", "fill": "white", "stroke": "#555555", "strokeWidth": 1},
           "encoding": {"x2": {"field": "t2"}, "y2": {"field": "v2"}}},
          {"data": {"values": [{"t": 7.03, "t2": 8.68, "v": 242.9, "v2": 286.3}]},
           "mark": {"type": "rect", "fill": "white", "stroke": "#555555", "strokeWidth": 1, "strokeDash": [1, 1]},
           "encoding": {"x2": {"field": "t2"}, "y2": {"field": "v2"}}},
          {"data": {"name": "b_band"}, "mark": {"type": "area", "color": "#f03a3a", "opacity": 1},
           "encoding": {"y2": {"field": "v2"}}},
          {"data": {"name": "b_inset"}, "mark": {"type": "line", "strokeWidth": 1.8},
           "encoding": {"detail": {"field": "g"}, "stroke": {"field": "c", "type": "nominal", "scale": null}}},
          {"data": {"values": [{"t": 1.78, "t2": 4.54, "v": 273.3}, {"t": 1.78, "t2": 4.54, "v": 254.5}]},
           "mark": {"type": "rule", "color": "#1e78c8", "strokeWidth": 2, "strokeDash": [10, 3, 3, 3]},
           "encoding": {"x2": {"field": "t2"}}},
          {"data": {"values": [{"t": 3.92, "v": 254.5, "v2": 273.3}]},
           "mark": {"type": "rule", "color": "#5ab4e5", "strokeWidth": 1},
           "encoding": {"y2": {"field": "v2"}}},
          {"data": {"values": [{"t": 3.92, "v": 279.1}]},
           "mark": {"type": "point", "shape": "M-0.45,-0.5L0.45,-0.5L0,0.5Z", "filled": true, "size": 180, "color": "#1a6ec0", "opacity": 1},
           "encoding": {}},
          {"data": {"values": [{"t": 3.92, "v": 248.7}]},
           "mark": {"type": "point", "shape": "M-0.45,0.5L0.45,0.5L0,-0.5Z", "filled": true, "size": 180, "color": "#1a6ec0", "opacity": 1},
           "encoding": {}},
          {"data": {"values": [{"t": 0.11, "v": 275.8}]},
           "mark": {"type": "point", "shape": "M-0.11,0A0.11,0.5 0 1,0 0.11,0A0.11,0.5 0 1,0 -0.11,0Z", "filled": false, "size": 4225, "color": "#5bc0eb", "strokeWidth": 1, "strokeDash": [1, 1], "opacity": 1},
           "encoding": {}},
          {"data": {"values": [{"t": 6.17, "v": 298.4}]},
           "mark": {"type": "point", "shape": "M-0.5,0A0.5,0.336 0 1,0 0.5,0A0.5,0.336 0 1,0 -0.5,0Z", "filled": false, "size": 335, "color": "#5bc0eb", "strokeWidth": 1, "strokeDash": [1, 1], "opacity": 1},
           "encoding": {}},
          {"data": {"values": [{"t": 0.325, "t2": 1.268, "v": 274.8, "v2": 264.3}, {"t": 6.407, "t2": 6.7, "v": 291.7, "v2": 287.4}]},
           "mark": {"type": "rule", "color": "#45b8ec", "strokeWidth": 1.5},
           "encoding": {"x2": {"field": "t2"}, "y2": {"field": "v2"}}},
          {"data": {"values": [{"t": 1.366, "v": 263.5}]},
           "mark": {"type": "point", "shape": "M-0.5,-0.45L0.5,0L-0.5,0.45Z", "filled": true, "size": 169, "angle": 21, "color": "#33b5ea", "opacity": 1},
           "encoding": {}},
          {"data": {"values": [{"t": 6.83, "v": 285.2}]},
           "mark": {"type": "point", "shape": "M-0.5,-0.45L0.5,0L-0.5,0.45Z", "filled": true, "size": 169, "angle": 27, "color": "#33b5ea", "opacity": 1},
           "encoding": {}},
          {"data": {"values": [{"t": 4.49, "v": 248.7, "label": "vₒₐ≈50V"}]},
           "mark": {"type": "text", "align": "left", "baseline": "middle", "fontSize": 15, "font": "Liberation Serif", "color": "#222222"},
           "encoding": {"text": {"field": "label"}}}
        ]
      }
    ],
    "spacing": 10,
    "resolve": {"scale": {"color": "independent"}, "legend": {"color": "independent"}}
  },
  {
    "hconcat": [
      {
        "vconcat": [
          {
            "width": 278, "height": 79,
            "data": {"name": "c1"},
            "mark": {"type": "line", "strokeWidth": 1.3},
            "encoding": {
              "x": {"field": "t", "type": "quantitative", "scale": {"domain": [2, 8], "nice": false}, "axis": {"values": [2, 4, 6, 8], "labels": false, "title": null}},
              "y": {"field": "v", "type": "quantitative", "scale": {"domain": [283, 317], "nice": false}, "axis": {"values": [285, 300, 315], "title": "vₒᵤₜ(V)", "minExtent": 28, "maxExtent": 28, "titlePadding": 5, "titleFontWeight": "normal", "labelOverlap": false}},
              "color": {"field": "s", "type": "nominal",
                        "scale": {"domain": ["Dd=4", "Jᵥᵢᵣ=0.005", "Jᵥᵢᵣ=0.02", "Jᵥᵢᵣ=0.04", "Jᵥᵢᵣ=0.08", "Jᵥᵢᵣ=0.14"], "range": ["transparent", "#333333", "#e8383d", "#2060d8", "#2aa86a", "#f0c35c"]},
                        "legend": {"orient": "bottom-right", "columns": 3, "symbolSize": 256, "symbolStrokeWidth": 1.5, "labelFontSize": 13, "columnPadding": 4, "rowPadding": 0, "offset": 1, "labelOffset": 3}}
            }
          },
          {
            "width": 278, "height": 78,
            "title": {"text": "(c)", "orient": "bottom", "offset": 3},
            "data": {"name": "c2"},
            "mark": {"type": "line", "strokeWidth": 6},
            "encoding": {
              "x": {"field": "t", "type": "quantitative", "scale": {"domain": [2, 8], "nice": false}, "axis": {"values": [2, 4, 6, 8], "title": "time(s)", "titlePadding": 1, "titleFontWeight": "normal"}},
              "y": {"field": "v", "type": "quantitative", "scale": {"domain": [-16.7, 16.7], "nice": false}, "axis": {"values": [-15, 0, 15], "title": "ib(A)", "minExtent": 28, "maxExtent": 28, "titlePadding": 5, "titleFontWeight": "normal", "labelOverlap": false}},
              "color": {"field": "s", "type": "nominal",
                        "scale": {"domain": ["Jᵥᵢᵣ=0.005", "Jᵥᵢᵣ=0.02", "Jᵥᵢᵣ=0.04", "Jᵥᵢᵣ=0.08", "Jᵥᵢᵣ=0.14"], "range": ["#333333", "#e8383d", "#2060d8", "#2aa86a", "#f0c35c"]},
                        "legend": null}
            }
          }
        ],
        "spacing": 6,
        "resolve": {"scale": {"color": "independent"}, "legend": {"color": "independent"}}
      },
      {
        "vconcat": [
          {
            "width": 278, "height": 79,
            "encoding": {
              "x": {"field": "t", "type": "quantitative", "scale": {"domain": [2, 8], "nice": false}, "axis": {"values": [2, 4, 6, 8], "labels": false, "title": null}},
              "y": {"field": "v", "type": "quantitative", "scale": {"domain": [283, 317], "nice": false}, "axis": {"values": [285, 300, 315], "title": null, "labelOverlap": false, "labelBound": false}}
            },
            "layer": [
              {"data": {"name": "d1"}, "mark": {"type": "line", "strokeWidth": 1.3},
               "encoding": {
                 "color": {"field": "s", "type": "nominal",
                           "scale": {"domain": ["Dd=2", "Dd=3", "Dd=5", "Dd=7"], "range": ["#333333", "#ef5050", "#2f6fe0", "#2daa6a"]},
                           "legend": {"orient": "bottom-right", "columns": 2, "symbolSize": 256, "symbolStrokeWidth": 1.5, "labelFontSize": 13, "columnPadding": 4, "rowPadding": 0, "offset": 1, "labelOffset": 3}}}},
              {"data": {"values": [{"t": 7.97, "v": 312.6, "label": "Jᵥᵢᵣ=0.06"}]},
               "mark": {"type": "text", "align": "right", "baseline": "middle", "fontSize": 13, "font": "Liberation Serif", "color": "#222222"},
               "encoding": {"text": {"field": "label"}}}
            ]
          },
          {
            "width": 278, "height": 78,
            "title": {"text": "(d)", "orient": "bottom", "offset": 3},
            "data": {"name": "d2"},
            "mark": {"type": "line"},
            "encoding": {
              "x": {"field": "t", "type": "quantitative", "scale": {"domain": [2, 8], "nice": false}, "axis": {"values": [2, 4, 6, 8], "title": "time(s)", "titlePadding": 1, "titleFontWeight": "normal"}},
              "y": {"field": "v", "type": "quantitative", "scale": {"domain": [-11.3, 10.7], "nice": false}, "axis": {"values": [-10, 0, 10], "title": null, "labelOverlap": false}},
              "color": {"field": "s", "type": "nominal",
                        "scale": {"domain": ["Dd=2", "Dd=3", "Dd=5", "Dd=7"], "range": ["#333333", "#ef5050", "#2f6fe0", "#2daa6a"]},
                        "legend": null},
              "strokeWidth": {"field": "s", "type": "nominal", "scale": {"domain": ["Dd=2", "Dd=3", "Dd=5", "Dd=7"], "range": [4, 4, 4, 8]}, "legend": null}
            }
          }
        ],
        "spacing": 6,
        "resolve": {"scale": {"color": "independent", "strokeWidth": "independent"}, "legend": {"color": "independent"}}
      }
    ],
    "spacing": -8,
    "resolve": {"scale": {"color": "independent", "strokeWidth": "independent"}, "legend": {"color": "independent"}}
  }
]
}
